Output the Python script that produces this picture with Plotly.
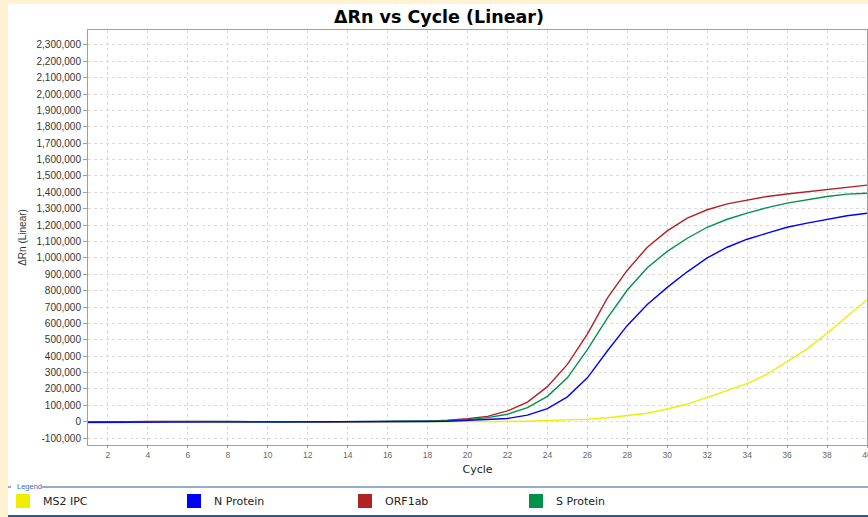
import plotly.graph_objects as go

# ---------------- data ----------------
cycles = list(range(1, 41))

ms2_ipc = [-8000, -8000, -5000, -2000, -2000, -1000, -1000, -1000, -1000, -1000,
           -1000, -1000, -1000, -1000, -1000, -1000, -1000, -1000, -1000, 0,
           0, 1000, 3000, 6000, 10000, 16000, 24000, 36000, 52000, 78000,
           108000, 149000, 192000, 232000, 290000, 365000, 445000, 540000, 642000, 745000]

n_protein = [-3000, -3000, -1000, 0, 0, 1000, 1000, 1000, 0, -1000,
             -1000, 0, 0, 0, 0, 0, 0, 1000, 3000, 8000,
             13000, 20000, 40000, 80000, 152000, 268000, 432000, 588000, 715000, 820000,
             915000, 1000000, 1065000, 1114000, 1151000, 1187000, 1212000, 1236000, 1257000, 1273000]

orf1ab = [-3000, -3000, 0, 1000, 2000, 1000, 2000, 1000, 0, 0,
          0, -1000, -2000, -1000, 0, 0, 1000, 3000, 9000, 18000,
          33000, 66000, 120000, 214000, 350000, 535000, 755000, 925000, 1065000, 1165000,
          1243000, 1294000, 1330000, 1352000, 1375000, 1390000, 1404000, 1420000, 1432000, 1444000]

s_protein = [-2000, -1000, 2000, 2000, 1000, 1000, 2000, 1000, -1000, -2000,
             -2000, -1000, 0, 0, 0, 1000, 1000, 2000, 6000, 13000,
             25000, 46000, 86000, 155000, 268000, 440000, 632000, 804000, 940000, 1040000,
             1120000, 1187000, 1236000, 1273000, 1307000, 1334000, 1354000, 1375000, 1389000, 1395000]

series_names = ["MS2 IPC", "N Protein", "ORF1ab", "S Protein"]
series_values = {"MS2 IPC": ms2_ipc, "N Protein": n_protein, "ORF1ab": orf1ab, "S Protein": s_protein}
series_colors = {"MS2 IPC": "#EEEE00", "N Protein": "#0000FF", "ORF1ab": "#B22222", "S Protein": "#00924A"}
draw_order = ["MS2 IPC", "ORF1ab", "S Protein", "N Protein"]

x_tick_vals = list(range(2, 41, 2))
y_tick_vals = list(range(-100000, 2300001, 100000))
y_tick_text = [f"{v:,}" for v in y_tick_vals]

# ---------------- geometry helpers ----------------
W, H = 868, 517
ML, MR, MT, MB = 88, 1, 30, 72
PW, PH = W - ML - MR, H - MT - MB


def px(x):
    return (x - ML) / PW


def py(y):
    return (H - MB - y) / PH


fig = go.Figure()

for name in draw_order:
    fig.add_trace(go.Scatter(
        x=cycles, y=series_values[name], mode="lines", name=name,
        line=dict(color=series_colors[name], width=1.4),
        legendgroup=name, showlegend=False,
    ))

for name in series_names:
    fig.add_trace(go.Scatter(
        x=[None], y=[None], mode="markers", name=name, legendgroup=name,
        marker=dict(symbol="square", size=14, color=series_colors[name], line=dict(width=0)),
        showlegend=True,
    ))

grid = dict(showgrid=True, gridcolor="#DADADA", gridwidth=1, griddash="3px,3px")

fig.update_xaxes(
    range=[1, 40], tickvals=x_tick_vals, ticktext=[str(v) for v in x_tick_vals],
    showline=True, linecolor="#A0A0A0", linewidth=1, mirror=True,
    ticks="outside", ticklen=2, tickcolor="#A0A0A0",
    tickfont=dict(family="Liberation Sans", size=8.5, color="#666666"),
    ticklabeloverflow="allow", zeroline=False, automargin=False,
    title=dict(text="Cycle", font=dict(family="DejaVu Sans", size=11, color="#222222"), standoff=6),
    **grid,
)
fig.update_yaxes(
    range=[-142000, 2391000], tickvals=y_tick_vals, ticktext=y_tick_text,
    showline=True, linecolor="#A0A0A0", linewidth=1, mirror=True,
    ticks="outside", ticklen=4, tickcolor="#A0A0A0",
    tickfont=dict(family="Liberation Sans", size=10, color="#333333"),
    zeroline=False, automargin=False,
    title=dict(text="ΔRn (Linear)", font=dict(family="Liberation Sans", size=10, color="#333333"), standoff=8),
    **grid,
)

cream = "#FEF2D3"
line_blue = "#2B5A94"
shapes = [
    dict(type="rect", xref="paper", yref="paper", x0=px(0), x1=px(8), y0=py(H), y1=py(0),
         fillcolor=cream, line=dict(width=0), layer="below"),
    dict(type="rect", xref="paper", yref="paper", x0=px(0), x1=px(W), y0=py(4), y1=py(0),
         fillcolor=cream, line=dict(width=0), layer="below"),
    dict(type="line", xref="paper", yref="paper", x0=px(8), x1=px(11), y0=py(487), y1=py(487),
         line=dict(color=line_blue, width=1)),
    dict(type="line", xref="paper", yref="paper", x0=px(42), x1=px(W), y0=py(487), y1=py(487),
         line=dict(color=line_blue, width=1)),
    dict(type="line", xref="paper", yref="paper", x0=px(8), x1=px(W), y0=py(516), y1=py(516),
         line=dict(color=line_blue, width=2)),
]

annotations = [
    dict(text="Legend", xref="paper", yref="paper", x=px(15), y=py(486.5),
         xanchor="left", yanchor="middle", showarrow=False,
         font=dict(family="Liberation Sans", size=7.5, color="#3A6BB5")),
]

fig.update_layout(
    width=W, height=H, autosize=False,
    margin=dict(l=ML, r=MR, t=MT, b=MB, pad=0, autoexpand=False),
    paper_bgcolor="white", plot_bgcolor="white",
    title=dict(text="<b>ΔRn vs Cycle (Linear)</b>", xref="container", x=439 / W, xanchor="center",
               yref="container", y=1 - 17 / H, yanchor="middle",
               font=dict(family="DejaVu Sans", size=17.5, color="#000000")),
    legend=dict(orientation="h", x=px(3), xanchor="left", y=py(501), yanchor="middle",
                entrywidth=126, entrywidthmode="pixels", bgcolor="rgba(0,0,0,0)",
                font=dict(family="DejaVu Sans", size=11, color="#222222"),
                itemclick="toggle", tracegroupgap=0),
    shapes=shapes, annotations=annotations,
    showlegend=True,
)

fig.write_html("out.html", config={"displayModeBar": False},
               post_script="document.body.style.margin='0px';")
